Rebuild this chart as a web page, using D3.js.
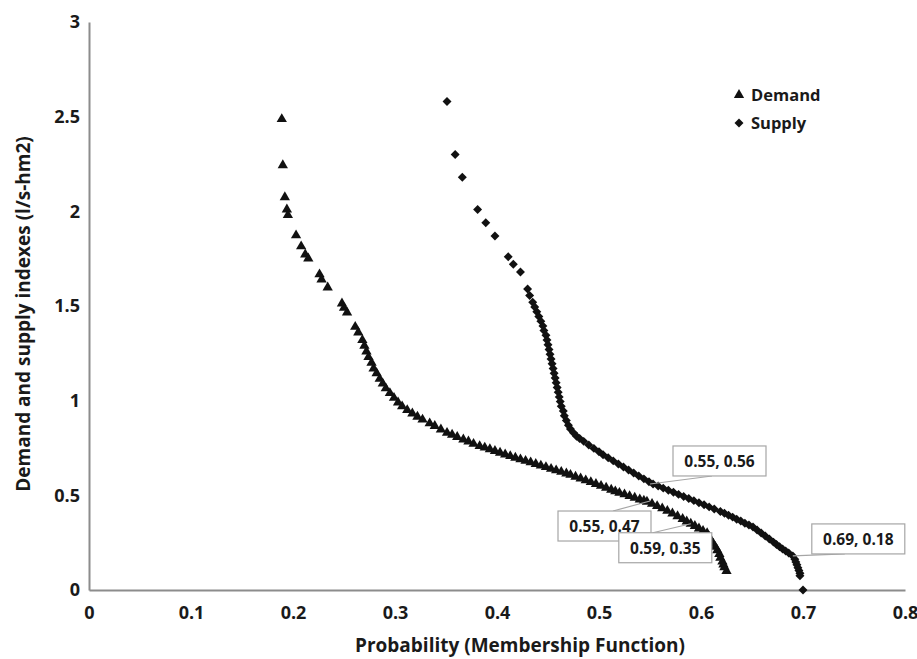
<!DOCTYPE html>
<html>
<head>
<meta charset="utf-8">
<script src="https://cdn.jsdelivr.net/npm/d3@7"></script>
<style>
	body { margin: 0; background: #fff; }
	text { font-family: "Open Sans", sans-serif; font-weight: 700; fill: #1a1a1a; }
</style>
</head>
<body>
<div id="chart"></div>
<script>
var xTicks = [0, 0.1, 0.2, 0.3, 0.4, 0.5, 0.6, 0.7, 0.8],
	yTicks = [0, 0.5, 1, 1.5, 2, 2.5, 3],
	seriesNames = ["Demand", "Supply"];

// probability, index
var demandPoints = [
	[0.189,2.487],[0.190,2.243],[0.192,2.074],[0.194,2.010],[0.195,1.980],[0.203,1.873],
	[0.208,1.815],[0.212,1.772],[0.215,1.751],[0.226,1.667],[0.228,1.640],[0.234,1.598],
	[0.248,1.513],[0.250,1.490],[0.253,1.466],[0.261,1.390],[0.264,1.360],[0.268,1.320],
	[0.270,1.290],[0.272,1.260],[0.274,1.230],[0.277,1.200],[0.279,1.170],[0.282,1.145],
	[0.285,1.115],[0.288,1.090],[0.291,1.065],[0.295,1.040],[0.299,1.015],[0.303,0.990],
	[0.307,0.970],[0.312,0.950],[0.317,0.932],[0.322,0.915],[0.327,0.900],[0.334,0.880],
	[0.339,0.866],[0.345,0.848],[0.351,0.830],[0.356,0.820],[0.361,0.808],[0.367,0.795],
	[0.372,0.784],[0.377,0.772],[0.383,0.760],[0.388,0.752],[0.393,0.743],[0.398,0.734],
	[0.403,0.725],[0.408,0.716],[0.413,0.707],[0.418,0.699],[0.423,0.690],[0.428,0.682],
	[0.433,0.674],[0.438,0.666],[0.443,0.657],[0.448,0.649],[0.453,0.640],[0.458,0.632],
	[0.463,0.624],[0.468,0.615],[0.472,0.608],[0.477,0.598],[0.482,0.589],[0.487,0.579],
	[0.492,0.570],[0.497,0.560],[0.502,0.550],[0.507,0.540],[0.512,0.530],[0.516,0.521],
	[0.520,0.513],[0.525,0.505],[0.530,0.496],[0.535,0.487],[0.540,0.478],[0.544,0.471],
	[0.547,0.466],[0.552,0.455],[0.557,0.443],[0.562,0.431],[0.567,0.418],[0.572,0.404],
	[0.577,0.390],[0.582,0.375],[0.586,0.362],[0.590,0.350],[0.594,0.338],[0.598,0.325],
	[0.602,0.312],[0.606,0.300],[0.608,0.280],[0.610,0.260],[0.612,0.245],[0.614,0.228],
	[0.616,0.210],[0.618,0.190],[0.619,0.170],[0.621,0.150],[0.622,0.135],[0.623,0.120],
	[0.625,0.100]
];

var supplyPoints = [
	[0.351,2.580],[0.359,2.300],[0.366,2.180],[0.381,2.010],[0.389,1.940],[0.398,1.870],
	[0.411,1.760],[0.416,1.720],[0.423,1.680],[0.430,1.590],[0.432,1.555],[0.435,1.520],
	[0.437,1.495],[0.439,1.470],[0.441,1.445],[0.443,1.420],[0.445,1.395],[0.446,1.370],
	[0.448,1.345],[0.449,1.320],[0.450,1.295],[0.451,1.270],[0.452,1.245],[0.453,1.220],
	[0.454,1.195],[0.455,1.170],[0.456,1.145],[0.457,1.120],[0.458,1.095],[0.459,1.070],
	[0.460,1.045],[0.461,1.020],[0.462,0.995],[0.463,0.970],[0.465,0.945],[0.466,0.920],
	[0.468,0.895],[0.470,0.870],[0.472,0.850],[0.475,0.830],[0.478,0.812],[0.481,0.800],
	[0.485,0.785],[0.490,0.766],[0.495,0.748],[0.500,0.730],[0.504,0.714],[0.509,0.698],
	[0.514,0.682],[0.519,0.666],[0.524,0.650],[0.529,0.634],[0.534,0.618],[0.539,0.602],
	[0.544,0.587],[0.549,0.572],[0.553,0.560],[0.558,0.549],[0.563,0.538],[0.568,0.527],
	[0.573,0.516],[0.578,0.505],[0.583,0.494],[0.588,0.483],[0.593,0.472],[0.598,0.461],
	[0.603,0.450],[0.608,0.439],[0.613,0.428],[0.619,0.415],[0.623,0.405],[0.627,0.395],
	[0.631,0.385],[0.635,0.374],[0.639,0.364],[0.643,0.353],[0.647,0.343],[0.651,0.333],
	[0.655,0.317],[0.659,0.301],[0.663,0.285],[0.667,0.269],[0.671,0.253],[0.674,0.240],
	[0.677,0.228],[0.680,0.217],[0.683,0.206],[0.686,0.195],[0.690,0.180],[0.692,0.163],
	[0.693,0.148],[0.694,0.133],[0.695,0.118],[0.696,0.103],[0.697,0.088],[0.697,0.075],
	[0.700,0.000]
];

var calloutText = ["0.55, 0.56", "0.55, 0.47", "0.59, 0.35", "0.69, 0.18"],
	calloutAt = [[0.55,0.56],[0.55,0.47],[0.59,0.35],[0.69,0.18]];

var svg_width = 917,
	svg_height = 659,
	plot_left = 89,
	plot_right = 905,
	plot_top = 22,
	plot_bottom = 590,
	box_w = 93,
	box_h = 30,
	// box top-left and leader end, relative to the labelled point (px)
	box_off = [[23,-38,62,-8],[-92,10,-37,10],[-72,9,-38,9],[19,-32,52,-2]];

var svg = d3.select("#chart").append("svg")
	.attr("width", svg_width)
	.attr("height", svg_height);

var x = d3.scaleLinear().domain([0, 0.8]).range([plot_left, plot_right]),
	y = d3.scaleLinear().domain([0, 3]).range([plot_bottom, plot_top]);

// axes, no tick marks
svg.append("g")
	.attr("transform", "translate(0," + plot_bottom + ")")
	.call(d3.axisBottom(x).tickValues(xTicks).tickSize(0).tickPadding(16).tickFormat(d3.format("")));
svg.append("g")
	.attr("transform", "translate(" + plot_left + ",0)")
	.call(d3.axisLeft(y).tickValues(yTicks).tickSize(0).tickPadding(9).tickFormat(d3.format("")));

svg.selectAll(".domain").attr("stroke", "#8c8c8c").attr("stroke-width", 2);
svg.selectAll(".tick text").style("font-size", "18px").style("font-family", "'Open Sans', sans-serif").attr("fill", "#1a1a1a");

svg.append("text")
	.attr("x", 520)
	.attr("y", 652)
	.style("text-anchor", "middle")
	.style("font-size", "19px")
	.text("Probability (Membership Function)");

svg.append("text")
	.attr("transform", "translate(30,314) rotate(-90)")
	.style("text-anchor", "middle")
	.style("font-size", "19px")
	.text("Demand and supply indexes (l/s-hm2)");

var tri = d3.symbol().type(d3.symbolTriangle).size(46),
	dia = d3.symbol().type(d3.symbolSquare).size(40);

svg.append("g").selectAll("path")
	.data(demandPoints).enter().append("path")
	.attr("d", tri)
	.attr("fill", "#111")
	.attr("transform", function (d) { return "translate(" + x(d[0]) + "," + y(d[1]) + ")"; });

svg.append("g").selectAll("path")
	.data(supplyPoints).enter().append("path")
	.attr("d", dia)
	.attr("fill", "#111")
	.attr("transform", function (d) { return "translate(" + x(d[0]) + "," + y(d[1]) + ") rotate(45)"; });

// callouts
var co = svg.append("g").selectAll("g")
	.data(calloutText).enter().append("g");

co.append("line")
	.attr("x1", function (d, i) { return x(calloutAt[i][0]); })
	.attr("y1", function (d, i) { return y(calloutAt[i][1]); })
	.attr("x2", function (d, i) { return x(calloutAt[i][0]) + box_off[i][2]; })
	.attr("y2", function (d, i) { return y(calloutAt[i][1]) + box_off[i][3]; })
	.attr("stroke", "#a6a6a6")
	.attr("stroke-width", 1.2);

co.append("rect")
	.attr("x", function (d, i) { return x(calloutAt[i][0]) + box_off[i][0]; })
	.attr("y", function (d, i) { return y(calloutAt[i][1]) + box_off[i][1]; })
	.attr("width", box_w)
	.attr("height", box_h)
	.attr("fill", "#fff")
	.attr("stroke", "#a6a6a6")
	.attr("stroke-width", 1.2);

co.append("text")
	.attr("x", function (d, i) { return x(calloutAt[i][0]) + box_off[i][0] + box_w / 2; })
	.attr("y", function (d, i) { return y(calloutAt[i][1]) + box_off[i][1] + 21; })
	.style("text-anchor", "middle")
	.style("font-size", "15.5px")
	.text(function (d) { return d; });

// legend
var legend = svg.append("g").attr("transform", "translate(739,95)");
legend.selectAll("path")
	.data(seriesNames).enter().append("path")
	.attr("d", function (d, i) { return i == 0 ? tri() : dia(); })
	.attr("fill", "#111")
	.attr("transform", function (d, i) { return "translate(0," + (i * 28) + ")" + (i == 1 ? " rotate(45)" : ""); });
legend.selectAll("text")
	.data(seriesNames).enter().append("text")
	.attr("x", 12)
	.attr("y", function (d, i) { return i * 28 + 6; })
	.style("font-size", "16.5px")
	.text(function (d) { return d; });
</script>
</body>
</html>
